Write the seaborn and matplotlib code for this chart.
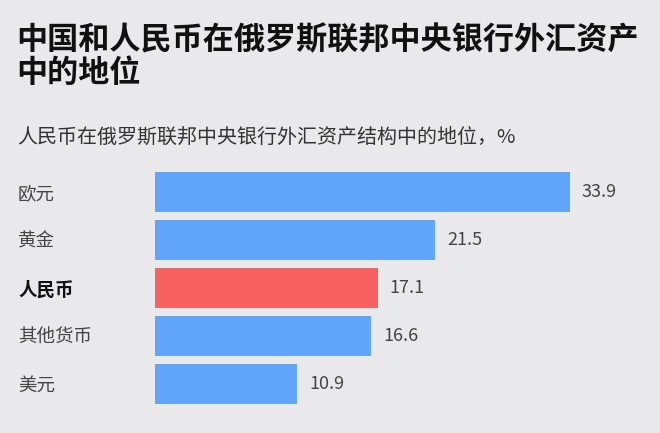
import matplotlib
matplotlib.use("Agg")
import matplotlib.pyplot as plt
import seaborn as sns
import pandas as pd

categories = ["欧元", "黄金", "人民币", "其他货币", "美元"]
values = [33.9, 21.5, 17.1, 16.6, 10.9]
highlight = "人民币"
title_lines = ["中国和人民币在俄罗斯联邦中央银行外汇资产", "中的地位"]
subtitle = "人民币在俄罗斯联邦中央银行外汇资产结构中的地位，%"

BG = "#E9E9EB"
BLUE = "#62A6FB"
RED = "#F76161"

sns.set_theme(style="white")
plt.rcParams["font.family"] = ["Noto Sans CJK SC", "DejaVu Sans"]

W, H = 660, 433
fig = plt.figure(figsize=(W / 100, H / 100), dpi=100, facecolor=BG)

def fx(px):
    return px / W

def fy(py):
    return 1 - py / H

ax = fig.add_axes([fx(155), fy(408), fx(569.5) - fx(155), fy(168) - fy(408)])
ax.set_facecolor("none")

df = pd.DataFrame({"cat": categories, "val": values})
palette = {c: (RED if c == highlight else BLUE) for c in categories}
sns.barplot(data=df, x="val", y="cat", hue="cat", palette=palette, order=categories,
            width=0.833, dodge=False, legend=False, ax=ax, saturation=1,
            linewidth=0, edgecolor="none")

xmax = 31.8
ax.set_xlim(0, xmax)
ax.set_ylim(len(categories) - 0.5, -0.5)
for s in ax.spines.values():
    s.set_visible(False)
ax.set_xticks([])
ax.set_xlabel("")
ax.set_ylabel("")
ax.tick_params(axis="y", length=0, pad=(155 - 18) * 0.72)
ax.set_yticks(range(len(categories)))
ax.set_yticklabels(categories)
for lab in ax.get_yticklabels():
    lab.set_horizontalalignment("left")
    lab.set_fontsize(13.3)
    if lab.get_text() == highlight:
        lab.set_fontweight("bold")
        lab.set_color("#111111")
    else:
        lab.set_color("#444444")

for i, v in enumerate(values):
    ax.annotate(f"{v:.1f}", xy=(min(v, xmax), i), xytext=(8.5, 0),
                textcoords="offset points", ha="left", va="center",
                fontsize=13, color="#444444", annotation_clip=False)

fig.text(fx(16), fy(49), title_lines[0], fontsize=22.4, fontweight="heavy",
         color="#111111", ha="left", va="baseline")
fig.text(fx(16), fy(82), title_lines[1], fontsize=22.4, fontweight="heavy",
         color="#111111", ha="left", va="baseline")
fig.text(fx(17), fy(143.5), subtitle, fontsize=14.4, color="#333333",
         ha="left", va="baseline")

fig.savefig("out.png", dpi=100, facecolor=BG)
